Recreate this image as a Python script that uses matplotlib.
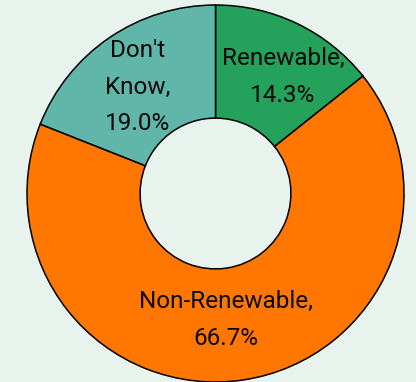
import matplotlib.pyplot as plt

categories = ["Renewable", "Non-Renewable", "Don't Know"]
shares = [14.3, 66.7, 19.0]
label_lines = ["Renewable,", "Non-Renewable,", "Don't\nKnow,"]
colors = ["#24a15b", "#ff7700", "#5fb6a9"]
label_xy = [(0.358, 0.618), (0.056, -0.671), (-0.411, 0.565)]

bg = "#e9f3ee"
W, H = 416, 382
cx, cy, R = 215.5, 193.5, 188.5

fig = plt.figure(figsize=(W / 100, H / 100), dpi=100, facecolor=bg)
ax = fig.add_axes([0, 0, 1, 1])
ax.set_facecolor(bg)
ax.pie(shares, colors=colors, startangle=90, counterclock=False, radius=1.0,
       wedgeprops=dict(width=0.6, edgecolor="black", linewidth=1.1))
ax.set_xlim(-cx / R, (W - cx) / R)
ax.set_ylim(-(H - cy) / R, cy / R)
ax.set_aspect("auto")
ax.axis("off")

for lab, val, (x, y) in zip(label_lines, shares, label_xy):
    ax.text(x, y, f"{lab}\n{val:.1f}%", ha="center", va="center",
            fontsize=17.5, family=["Roboto", "DejaVu Sans"], color="#0a0a0a",
            linespacing=1.75)

fig.savefig("out.png", dpi=100, facecolor=bg)
